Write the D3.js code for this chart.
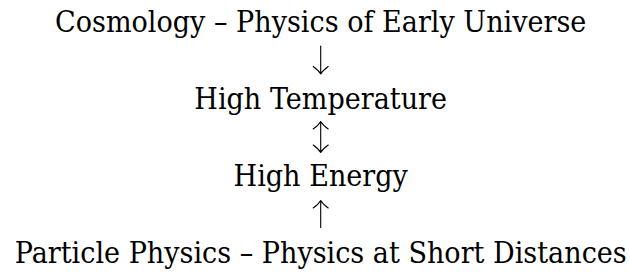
<!DOCTYPE html>
<html>
<head>
<meta charset="utf-8">
<script src="https://cdn.jsdelivr.net/npm/d3@7"></script>
<style>
  html, body { margin: 0; padding: 0; background: #fff; }
  .row { font-family: "DejaVu Serif", serif; font-size: 29px; fill: #000; }
  .arrow { fill: none; stroke: #000; stroke-width: 1.1; stroke-linecap: round; stroke-linejoin: round; }
</style>
</head>
<body>
<div id="chart"></div>
<script>
// the four statements, top to bottom
var rows = [
  "Cosmology \u2013 Physics of Early Universe",
  "High Temperature",
  "High Energy",
  "Particle Physics \u2013 Physics at Short Distances"
];
// arrow between row i and row i+1
var arrows = ["down", "both", "up"];

var svgWidth = 630, svgHeight = 272;
var cx = 320.7;
var capHeight = 21;
var targetLongest = 612;

var svg = d3.select("#chart")
  .append("svg")
  .attr("width", svgWidth)
  .attr("height", svgHeight);

// baseline of each row
var y = d3.scalePoint()
  .domain(d3.range(rows.length))
  .range([32, 263]);

var texts = svg.selectAll(".row")
  .data(rows)
  .enter()
  .append("text")
  .classed("row", true)
  .attr("x", cx)
  .attr("y", (d, i) => y(i))
  .attr("text-anchor", "middle")
  .text(d => d);

// squeeze the serif a bit so it is as wide as the original type
var natural = [];
texts.each(function() { natural.push(this.getComputedTextLength()); });
var k = targetLongest / d3.max(natural);
texts.attr("textLength", (d, i) => natural[i] * k)
  .attr("lengthAdjust", "spacingAndGlyphs");

// arrows sit half way between the caps of neighbouring rows
var arrowLen = {down: 28, both: 31, up: 27};
var headW = 7.5, headH = 7.5;

function head(tipY, dir) {
  // dir = -1 points up, +1 points down
  var by = tipY - dir * headH;
  return "M" + (cx - headW) + "," + by +
    "Q" + (cx - 2) + "," + (tipY - dir * 3.5) + " " + cx + "," + tipY +
    "Q" + (cx + 2) + "," + (tipY - dir * 3.5) + " " + (cx + headW) + "," + by;
}

svg.selectAll(".arrow")
  .data(arrows)
  .enter()
  .append("path")
  .classed("arrow", true)
  .attr("d", function(d, i) {
    var c1 = y(i) - capHeight / 2;
    var c2 = y(i + 1) - capHeight / 2;
    var mid = (c1 + c2) / 2;
    var top = mid - arrowLen[d] / 2, bottom = mid + arrowLen[d] / 2;
    var p = "M" + cx + "," + top + "L" + cx + "," + bottom;
    if (d === "down" || d === "both") p += head(bottom, 1);
    if (d === "up" || d === "both") p += head(top, -1);
    return p;
  });
</script>
</body>
</html>
